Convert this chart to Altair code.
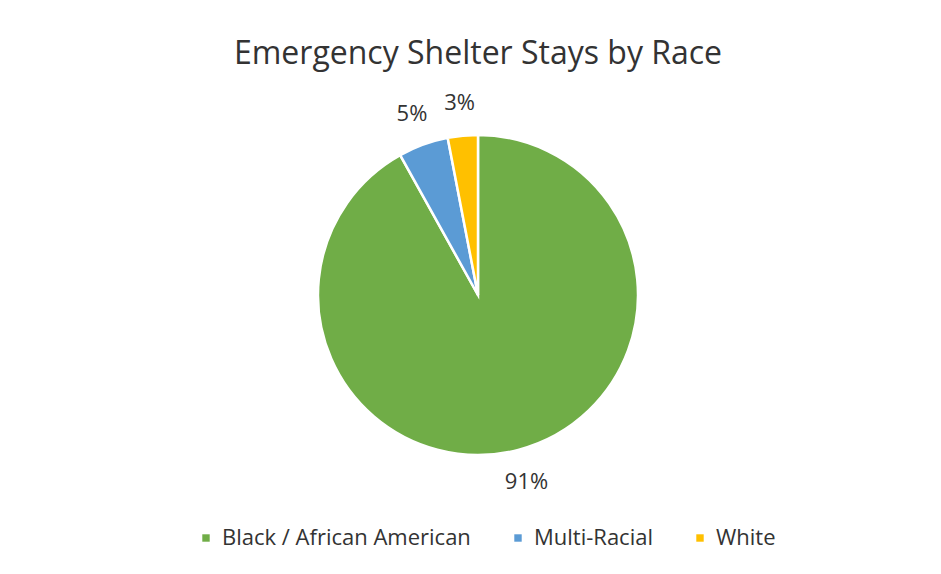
import altair as alt
import pandas as pd

categories = ["Black / African American", "Multi-Racial", "White"]
values = [91, 5, 3]
labels = ["91%", "5%", "3%"]
order_idx = [0, 1, 2]
colors = ["#70AD47", "#5B9BD5", "#FFC000"]

df = pd.DataFrame({"race": categories, "value": values, "label": labels, "ord": order_idx})

base = alt.Chart(df).encode(
    theta=alt.Theta("value:Q", stack=True),
    order=alt.Order("ord:Q"),
)

arcs = base.mark_arc(outerRadius=160, stroke="white", strokeWidth=2.5).encode(
    color=alt.Color(
        "race:N",
        scale=alt.Scale(domain=categories, range=colors),
        sort=categories,
        legend=alt.Legend(
            title=None,
            orient="none",
            direction="horizontal",
            legendX=180,
            legendY=437,
            symbolType="square",
            symbolSize=55,
            symbolStrokeWidth=0,
            labelFontSize=22,
            labelFont="Open Sans",
            labelColor="#333333",
            labelLimit=400,
            columnPadding=36,
            labelOffset=5,
        ),
    )
)

text = base.mark_text(radius=193, fontSize=22, font="Open Sans", color="#333333").encode(
    text="label:N"
)

chart = (
    (arcs + text)
    .properties(
        width=926,
        height=410,
        padding={"left": 15, "top": 90, "right": 0, "bottom": 74},
        autosize=alt.AutoSizeParams(type="none"),
        title=alt.Title(
            "Emergency Shelter Stays by Race",
            fontSize=32,
            font="Open Sans",
            fontWeight="normal",
            color="#333333",
            anchor="middle",
            offset=19,
        ),
    )
    .configure_view(stroke=None)
    .configure(background="white")
)

chart.save("out.html", embed_options={"renderer": "svg", "actions": False})
